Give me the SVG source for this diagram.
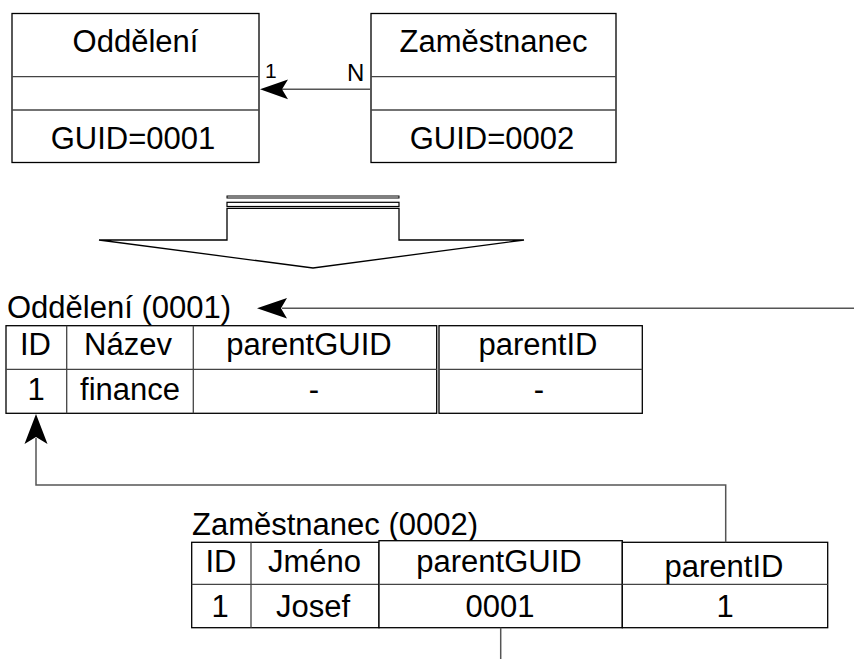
<svg xmlns="http://www.w3.org/2000/svg" width="854" height="659" viewBox="0 0 854 659">
<style>
.box{fill:#fff;stroke:#000;stroke-width:1.3}
.div{stroke:#444;stroke-width:1.3;fill:none}
.con{stroke:#555;stroke-width:1.5;fill:none}
.head{fill:#000;stroke:none}
text{font-family:"Liberation Sans",Arial,sans-serif;fill:#000}
.t{font-size:31px;text-anchor:middle}
.ts{font-size:31px}
.lbl1{font-size:21px}
.lblN{font-size:24px}
</style>
<rect width="854" height="659" fill="#fff"/>
<g id="oddeleni">
<rect class="box" x="12" y="13.5" width="247" height="149"/>
<line class="div" x1="12" y1="76.7" x2="259" y2="76.7"/>
<line class="div" x1="12" y1="110" x2="259" y2="110"/>
<text class="t" x="135.5" y="52">Oddělení</text>
<text class="t" x="133" y="149">GUID=0001</text>
</g>
<g id="zamestnanec">
<rect class="box" x="371" y="13.5" width="245" height="149"/>
<line class="div" x1="371" y1="76.7" x2="616" y2="76.7"/>
<line class="div" x1="371" y1="110" x2="616" y2="110"/>
<text class="t" x="493.5" y="52">Zaměstnanec</text>
<text class="t" x="492" y="149">GUID=0002</text>
</g>
<g id="transform-arrow">
<rect x="227" y="196" width="172" height="2" fill="#fff" stroke="#000" stroke-width="1"/>
<rect x="227" y="202.3" width="172" height="4.2" fill="#fff" stroke="#000" stroke-width="1.2"/>
<polygon points="227,208.3 399,208.3 399,240 524,240 313,268 99,240 227,240" fill="#fff" stroke="#000" stroke-width="1.3"/>
</g>
<g id="table-oddeleni">
<text class="ts" x="7" y="318">Oddělení (0001)</text>
<rect class="box" x="6" y="325.7" width="430.7" height="87.6"/>
<line class="div" x1="6" y1="369.3" x2="436.7" y2="369.3"/>
<line class="div" x1="66.7" y1="325.7" x2="66.7" y2="413.3"/>
<line class="div" x1="193.3" y1="325.7" x2="193.3" y2="413.3"/>
<rect class="box" x="439" y="325.7" width="203.3" height="87.6"/>
<line class="div" x1="439" y1="369.3" x2="642.3" y2="369.3"/>
<text class="t" x="35.5" y="355">ID</text>
<text class="t" x="128" y="355">Název</text>
<text class="t" x="309" y="355">parentGUID</text>
<text class="t" x="538" y="355">parentID</text>
<text class="t" x="36" y="400">1</text>
<text class="t" x="130" y="400">finance</text>
<text class="t" x="314" y="400">-</text>
<text class="t" x="539" y="400">-</text>
</g>
<g id="table-zamestnanec">
<text class="ts" x="192" y="535">Zaměstnanec (0002)</text>
<rect class="box" x="191.7" y="542.3" width="187.3" height="85.4"/>
<line class="div" x1="191.7" y1="584.3" x2="379" y2="584.3"/>
<line class="div" x1="251" y1="542.3" x2="251" y2="627.7"/>
<rect class="box" x="379" y="540.7" width="243.3" height="87"/>
<line class="div" x1="379" y1="584.3" x2="622.3" y2="584.3"/>
<rect class="box" x="622.3" y="542.3" width="205.4" height="85.4"/>
<line class="div" x1="622.3" y1="584.3" x2="827.7" y2="584.3"/>
<text class="t" x="221" y="571.7">ID</text>
<text class="t" x="314.5" y="571.7">Jméno</text>
<text class="t" x="499" y="571.7">parentGUID</text>
<text class="t" x="724" y="576.7">parentID</text>
<text class="t" x="220" y="616.7">1</text>
<text class="t" x="313" y="616.7">Josef</text>
<text class="t" x="500" y="616.7">0001</text>
<text class="t" x="725" y="616.7">1</text>
</g>
<g id="connectors">
<line class="con" x1="371" y1="89.3" x2="282" y2="89.3"/>
<polygon class="head" points="260,89.3 288,79.5 282,89.3 288,99.3"/>
<text class="lbl1" x="265" y="77.5">1</text>
<text class="lblN" x="347" y="80.7">N</text>
<line class="con" x1="854" y1="308.3" x2="282" y2="308.3"/>
<polygon class="head" points="257,308.3 287,298 281,308.3 287,318.5"/>
<polyline class="con" points="725.7,542.3 725.7,485 36,485 36,438"/>
<polygon class="head" points="36,414 47.5,444 36,437 24.5,444"/>
<line class="con" x1="500.7" y1="627.7" x2="500.7" y2="659"/>
</g>
</svg>
